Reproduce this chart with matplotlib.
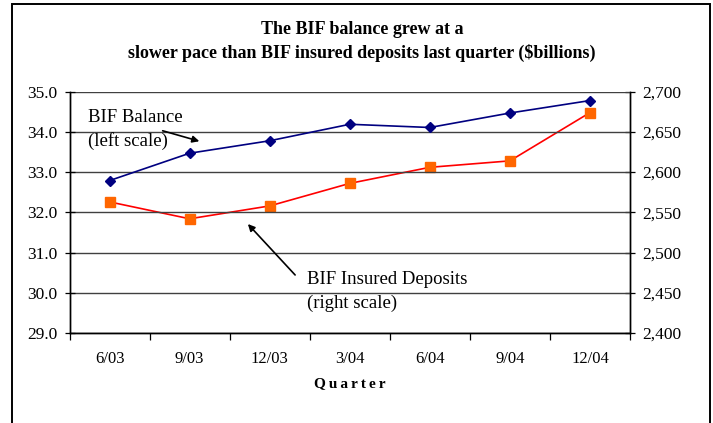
import matplotlib.pyplot as plt
from matplotlib.patches import Rectangle
from matplotlib.ticker import FuncFormatter
import numpy as np

quarters = ["6/03", "9/03", "12/03", "3/04", "6/04", "9/04", "12/04"]
bif_balance = [32.79, 33.47, 33.78, 34.19, 34.11, 34.47, 34.78]
insured_deposits = [2563, 2542, 2558, 2586, 2606, 2614, 2674]

plt.rcParams["font.family"] = ["Liberation Serif", "DejaVu Serif"]

fig = plt.figure(figsize=(7.13, 4.23), dpi=100)
ax = fig.add_axes([69.5 / 713, 1 - 333 / 423, (630 - 69.5) / 713, (333 - 91.7) / 423])
ax2 = ax.twinx()

x = np.arange(len(quarters))

# left scale
ax.set_xlim(-0.5, len(quarters) - 0.5)
ax.set_ylim(29, 35)
ax.set_yticks(np.arange(29, 35.1, 1))
ax.yaxis.set_major_formatter(FuncFormatter(lambda v, p: f"{v:.1f}"))
ax.grid(axis="y", color="#404040", lw=1.0)
ax.set_axisbelow(True)

# right scale
ax2.set_ylim(2400, 2700)
ax2.set_yticks(np.arange(2400, 2701, 50))
ax2.yaxis.set_major_formatter(FuncFormatter(lambda v, p: f"{int(v):,}"))

ax2.plot(x, insured_deposits, color="#FF0000", lw=1.2, marker="s", ms=6.5,
         mfc="#FF6600", mec="#FF6600", zorder=3)
ax.plot(x, bif_balance, color="#000080", lw=1.2, marker="D", ms=5.5,
        mfc="#000080", mec="#000080", zorder=4)
ax.set_zorder(ax2.get_zorder() + 1)
ax.patch.set_visible(False)

# category ticks sit between categories, labels at centres
ax.set_xticks(np.arange(-0.5, len(quarters), 1))
ax.set_xticklabels([])
ax.set_xticks(x, minor=True)
ax.set_xticklabels(quarters, minor=True, fontsize=12)
ax.tick_params(axis="x", which="major", direction="out", length=5, width=0.9)
ax.tick_params(axis="x", which="minor", length=0, pad=13)
ax.tick_params(axis="y", direction="inout", length=7, width=0.9, labelsize=12.5, pad=5)
ax2.tick_params(axis="y", direction="inout", length=7, width=0.9, labelsize=12.5, pad=5)

for a in (ax, ax2):
    a.spines["top"].set_visible(False)
    for s in ("left", "right", "bottom"):
        a.spines[s].set_linewidth(1.0)

ax.set_xlabel("Q\u2009u\u2009a\u2009r\u2009t\u2009e\u2009r", fontsize=11, fontweight="bold", labelpad=7)

fig.text(0.508, 1 - 30 / 423, "The BIF balance grew at a", ha="center", va="center",
         fontsize=13, fontweight="bold")
fig.text(0.508, 1 - 53 / 423, "slower pace than BIF insured deposits last quarter ($billions)",
         ha="center", va="center", fontsize=13, fontweight="bold")

# annotations
ax.annotate("", xy=(202, 423 - 142), xytext=(160, 423 - 130), xycoords="figure pixels",
            textcoords="figure pixels",
            arrowprops=dict(arrowstyle="-|>", color="black", lw=1.2, mutation_scale=10))
fig.text(88 / 713, 1 - 117 / 423, "BIF Balance", ha="left", va="center", fontsize=13.5)
fig.text(88 / 713, 1 - 141 / 423, "(left scale)", ha="left", va="center", fontsize=13.5)

ax.annotate("", xy=(246, 423 - 222), xytext=(297, 423 - 277), xycoords="figure pixels",
            textcoords="figure pixels",
            arrowprops=dict(arrowstyle="-|>", color="black", lw=1.2, mutation_scale=10))
fig.text(307 / 713, 1 - 279 / 423, "BIF Insured Deposits", ha="left", va="center", fontsize=13.5)
fig.text(307 / 713, 1 - 303 / 423, "(right scale)", ha="left", va="center", fontsize=13.5)

# outer chart border
fig.patches.append(Rectangle((12 / 713, -0.05), (710 - 12) / 713, 1.05 - 4 / 423,
                             transform=fig.transFigure, fill=False, ec="black", lw=1.4))

fig.savefig("out.png", dpi=100)
